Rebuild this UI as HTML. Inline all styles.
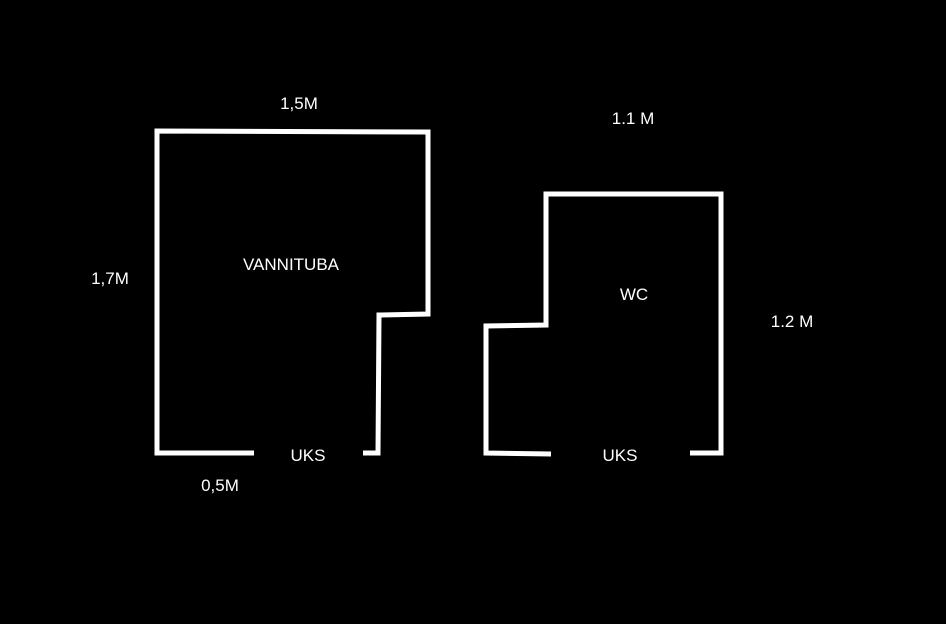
<!DOCTYPE html>
<html><head><style>
html,body{margin:0;padding:0;background:#000;width:946px;height:624px;overflow:hidden}
svg{display:block}
text{font-family:"Liberation Sans",sans-serif;font-size:17px;fill:#fff;text-anchor:middle}
</style></head><body>
<svg width="946" height="624" viewBox="0 0 946 624">
<rect width="946" height="624" fill="#000"/>
<g fill="none" stroke="#fff" stroke-width="5" stroke-linejoin="miter">
<polyline points="254,453 157,453 157,131 428,132 428,314 379,315 378,453 363,453"/>
<polyline points="551,454 486,453 486,326 546,325 546,194 721,194 721,453 690,453"/>
</g>
<text x="299" y="109">1,5M</text>
<text x="110" y="284">1,7M</text>
<text x="291" y="270">VANNITUBA</text>
<text x="308" y="461">UKS</text>
<text x="220" y="491">0,5M</text>
<text x="633" y="124">1.1 M</text>
<text x="634" y="300">WC</text>
<text x="792" y="327">1.2 M</text>
<text x="620" y="461">UKS</text>
</svg>
</body></html>
